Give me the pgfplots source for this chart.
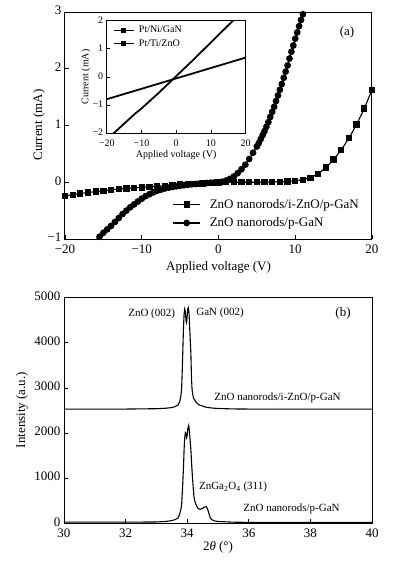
\documentclass[border=0pt]{standalone}
\usepackage{fontspec}
\setmainfont{Liberation Serif}
\usepackage{pgfplots}
\pgfplotsset{compat=1.18}
\pgfplotsset{
  myax/.style={scale only axis, axis line style={line width=1pt}, tick style={line width=0.8pt, black},
    major tick length=4pt, tick align=inside, tick pos=left,
    tick label style={font=\fontsize{13}{15}\selectfont},
    xticklabel style={yshift=-2pt},
    label style={font=\fontsize{13}{15}\selectfont}},
}
\begin{document}
\begin{tikzpicture}
\useasboundingbox (0pt,0pt) rectangle (399pt,-565pt);
% ---------------- top panel
\begin{axis}[myax, at={(65pt,-239pt)}, anchor=south west, width=307pt, height=227pt,
  xmin=-20, xmax=20, ymin=-1, ymax=3,
  xtick={-20,-10,0,10,20}, xticklabels={−20,−10,0,10,20},
  ytick={-1,0,1,2,3}, yticklabels={−1,0,1,2,3},
  yticklabel style={yshift=1.5pt},
  xlabel={Applied voltage (V)}, ylabel={Current (mA)},
  x label style={at={(axis description cs:0.5,-0.123)}, anchor=center},
  y label style={at={(axis description cs:-0.085,0.502)}, anchor=center, rotate=0},
  legend style={at={(0.350,0.185)}, anchor=north west, draw=none, fill=none,
    font=\fontsize{13}{15}\selectfont, row sep=4pt, column sep=7pt, inner sep=0pt},
  legend cell align=left,
  legend image code/.code={\draw[mark repeat=2,mark phase=2,#1] plot coordinates {(0pt,0pt) (13.5pt,0pt) (27pt,0pt)};},
]
\addplot[black, line width=1.1pt, mark=square*, mark size=2.6pt] coordinates {
(-20,-0.24) (-19,-0.22) (-18,-0.20) (-17,-0.18) (-16,-0.165) (-15,-0.15) (-14,-0.135)
(-13,-0.12) (-12,-0.11) (-11,-0.10) (-10,-0.09) (-9,-0.08) (-8,-0.07) (-7,-0.06)
(-6,-0.05) (-5,-0.042) (-4,-0.035) (-3,-0.028) (-2,-0.02) (-1,-0.012) (0,-0.005)
(1,0) (2,0) (3,0) (4,0) (5,0) (6,0.002) (7,0.004) (8,0.007) (9,0.012) (10,0.025)
(11,0.045) (12,0.08) (13,0.15) (14,0.26) (15,0.40) (16,0.57) (17,0.78) (18,1.02)
(19,1.30) (20,1.63)};
\addlegendentry{ZnO nanorods/i-ZnO/p-GaN}
\addplot[black, line width=1.1pt, mark=*, mark size=2.8pt] coordinates {
(-16,-1.02) (-15.5,-0.96) (-15,-0.89) (-14.5,-0.83) (-14,-0.77) (-13.5,-0.70) (-13,-0.63)
(-12.5,-0.56) (-12,-0.50) (-11.5,-0.44) (-11,-0.39) (-10.5,-0.34) (-10,-0.29) (-9.5,-0.245)
(-9,-0.21) (-8.5,-0.18) (-8,-0.15) (-7.5,-0.13) (-7,-0.11) (-6.5,-0.095) (-6,-0.083)
(-5.5,-0.072) (-5,-0.062) (-4.5,-0.053) (-4,-0.045) (-3.5,-0.037) (-3,-0.03) (-2.5,-0.024)
(-2,-0.018) (-1.5,-0.012) (-1,-0.007) (-0.5,-0.003) (0,0) (0.5,0.01) (1,0.03) (1.5,0.06)
(2,0.10) (2.5,0.16) (3,0.23) (3.5,0.31) (4,0.41) (4.5,0.52) (5,0.63) (5.25,0.69) (5.5,0.76)
(5.75,0.83) (6,0.90) (6.25,0.98) (6.5,1.06) (6.75,1.15) (7,1.24) (7.25,1.33) (7.5,1.43)
(7.75,1.53) (8,1.63) (8.25,1.73) (8.5,1.84) (8.75,1.95) (9,2.06) (9.25,2.18) (9.5,2.30)
(9.75,2.41) (10,2.53) (10.25,2.64) (10.5,2.75) (10.75,2.86) (11,2.96) (11.25,3.05)};
\addlegendentry{ZnO nanorods/p-GaN}
\end{axis}
\node[font=\fontsize{13}{15}\selectfont] at (347pt,-32pt) {(a)};
% ---------------- inset
\begin{axis}[myax, at={(106.7pt,-133.3pt)}, anchor=south west, width=139pt, height=112.6pt,
  axis background/.style={fill=white},
  xmin=-20, xmax=20, ymin=-2, ymax=2,
  major tick length=3pt,
  tick label style={font=\fontsize{10}{12}\selectfont},
  xticklabel style={yshift=-1pt},
  yticklabel style={yshift=1pt},
  label style={font=\fontsize{10}{12}\selectfont},
  xtick={-20,-10,0,10,20}, xticklabels={−20,−10,0,10,20},
  ytick={-2,-1,0,1,2}, yticklabels={−2,−1,0,1,2},
  xlabel={Applied voltage (V)}, ylabel={Current (mA)},
  x label style={at={(axis description cs:0.5,-0.19)}, anchor=center},
  y label style={at={(axis description cs:-0.149,0.5)}, anchor=center},
  legend style={at={(0.045,0.97)}, anchor=north west, draw=none, fill=none,
    font=\fontsize{10}{12}\selectfont, row sep=1pt, column sep=3pt, inner sep=0pt},
  legend cell align=left,
  legend image code/.code={\draw[black, line width=0.8pt] (0pt,0pt) -- (20pt,0pt); \fill[black] (8.5pt,-1.5pt) rectangle (11.5pt,1.5pt);},
]
\addplot[black, line width=1.8pt] coordinates {
(-20,-2.25) (-18,-2.0) (-15,-1.66) (-12,-1.32) (-10,-1.12) (-5,-0.56) (0,0.03)
(5,0.62) (10,1.23) (15,1.84) (16.5,2.02) (20,2.45)};
\addlegendentry{Pt/Ni/GaN}
\addplot[black, line width=1.8pt] coordinates {
(-20,-0.79) (-10,-0.42) (0,-0.05) (10,0.32) (20,0.69)};
\addlegendentry{Pt/Ti/ZnO}
\end{axis}
% ---------------- bottom panel
\begin{axis}[myax, at={(64pt,-523.3pt)}, anchor=south west, width=308pt, height=225.6pt,
  xmin=30, xmax=40, ymin=0, ymax=5000,
  xtick={30,32,34,36,38,40}, xticklabels={30,32,34,36,38,40},
  ytick={0,1000,2000,3000,4000,5000}, yticklabels={0,1000,2000,3000,4000,5000},
  yticklabel style={yshift=1.5pt},
  xlabel={2\textit{θ} (°)}, ylabel={Intensity (a.u.)},
  x label style={at={(axis description cs:0.5,-0.105)}, anchor=center},
  y label style={at={(axis description cs:-0.136,0.502)}, anchor=center},
]
\addplot[black, line width=1.1pt] coordinates {
(30,2530) (31,2530) (32,2532) (33,2540) (33.3,2550) (33.5,2565) (33.6,2585) (33.7,2620)
(33.76,2700) (33.80,2850) (33.82,3000) (33.84,3400) (33.86,3880) (33.88,4350) (33.90,4650)
(33.92,4750) (33.94,4700) (33.96,4500) (33.98,4450) (34.00,4600) (34.02,4760) (34.04,4780)
(34.06,4650) (34.08,4350) (34.10,4050) (34.12,3750) (34.14,3200) (34.16,2950) (34.20,2780)
(34.30,2670) (34.40,2620) (34.60,2575) (34.80,2555) (35,2545) (35.5,2535) (36,2532) (37,2530) (40,2530)};
\addplot[black, line width=1.1pt] coordinates {
(30,25) (31,25) (32,25) (33,30) (33.3,40) (33.5,60) (33.6,80) (33.7,115) (33.75,190)
(33.80,330) (33.82,420) (33.85,800) (33.88,1250) (33.90,1650) (33.92,1900) (33.94,2010)
(33.96,1990) (33.98,1900) (34.00,1950) (34.02,2100) (34.05,2170) (34.07,2050) (34.10,1800)
(34.12,1620) (34.15,1250) (34.17,1030) (34.20,750) (34.22,590) (34.25,480) (34.30,390)
(34.35,330) (34.42,310) (34.50,330) (34.56,360) (34.61,370) (34.66,320) (34.70,230)
(34.75,120) (34.80,80) (34.90,50) (35,40) (35.5,25) (36,20) (40,20)};
\end{axis}
\node[font=\fontsize{13}{15}\selectfont] at (343pt,-313pt) {(b)};
\node[font=\fontsize{11}{13}\selectfont] at (151.7pt,-314pt) {ZnO (002)};
\node[font=\fontsize{11}{13}\selectfont] at (220pt,-313pt) {GaN (002)};
\node[font=\fontsize{11}{13}\selectfont] at (277.5pt,-398pt) {ZnO nanorods/i-ZnO/p-GaN};
\node[font=\fontsize{11}{13}\selectfont] at (233pt,-487pt) {ZnGa\textsubscript{2}O\textsubscript{4} (311)};
\node[font=\fontsize{11}{13}\selectfont] at (291.5pt,-509pt) {ZnO nanorods/p-GaN};
\end{tikzpicture}
\end{document}
